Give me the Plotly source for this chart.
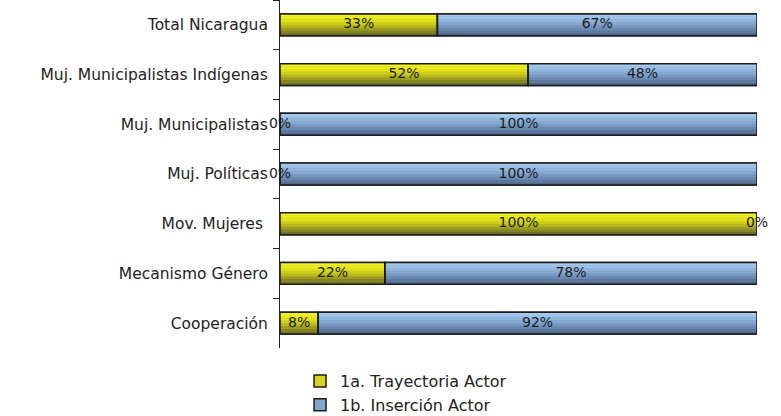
import plotly.graph_objects as go

# Kategorien von oben nach unten, Anteile in Prozent
categories = [
    "Total Nicaragua",
    "Muj. Municipalistas Indígenas",
    "Muj. Municipalistas",
    "Muj. Políticas",
    "Mov. Mujeres ",
    "Mecanismo Género",
    "Cooperación",
]
trayectoria = [33, 52, 0, 0, 100, 22, 8]
insercion = [67, 48, 100, 100, 0, 78, 92]
series_names = ["1a. Trayectoria Actor", "1b. Inserción Actor"]

# ---------------------------------------------------------------------------
# Verlauf der Balken über schmale Streifen nachgebildet (oben hell, unten dunkel)
# ---------------------------------------------------------------------------
YELLOW = ["#f0f024", "#eaea1e", "#e0e01a", "#cfcf1a", "#b8b81c", "#9c9c20", "#828226", "#70702a"]
BLUE = ["#a6caee", "#9cc0e6", "#90b4dc", "#84a8d0", "#7898c2", "#6a88b0", "#5c789c", "#50688a"]
LEGEND_COLORS = ["#d4d41c", "#80a6cc"]
EDGE = "#1c1c1c"
BAR_W = 0.44
FONT = "DejaVu Sans"

bases = [[0] * len(categories), trayectoria]
values = [trayectoria, insercion]
shades = [YELLOW, BLUE]

traces = []
for name, vals, base, strip_colors, leg_color in zip(series_names, values, bases, shades, LEGEND_COLORS):
    traces.append(go.Bar(
        y=categories, x=vals, base=base, orientation="h", name=name,
        width=BAR_W, offset=-BAR_W / 2,
        marker=dict(color=leg_color, line=dict(color=EDGE, width=1.5)),
        hoverinfo="skip",
    ))
    n = len(strip_colors)
    for k, c in enumerate(strip_colors):
        traces.append(go.Bar(
            y=categories, x=vals, base=base, orientation="h", showlegend=False,
            width=BAR_W / n, offset=-BAR_W / 2 + k * BAR_W / n,
            marker=dict(color=c, line=dict(width=0)),
            hoverinfo="skip",
        ))

for vals, base in zip(values, bases):
    traces.append(go.Bar(
        y=categories, x=vals, base=base, orientation="h", showlegend=False,
        width=BAR_W, offset=-BAR_W / 2,
        marker=dict(color="rgba(0,0,0,0)", line=dict(color=EDGE, width=1.5)),
        hoverinfo="skip",
    ))

# Beschriftungen in der Mitte jedes Segments (auch 0 %)
for vals, base in zip(values, bases):
    traces.append(go.Scatter(
        y=categories, x=[b + v / 2 for b, v in zip(base, vals)],
        mode="text", text=[f"{v}%" for v in vals],
        textfont=dict(family=FONT, size=14, color="#1a1a1a"),
        showlegend=False, hoverinfo="skip", cliponaxis=False,
    ))

fig = go.Figure(data=traces)
fig.update_layout(
    width=781, height=416,
    margin=dict(l=280, r=24, t=0, b=68, autoexpand=False),
    barmode="overlay",
    plot_bgcolor="white", paper_bgcolor="white",
    font=dict(family=FONT, size=15, color="#222222"),
    showlegend=True,
    legend=dict(
        orientation="v", x=0.042, xanchor="left", y=-0.046, yanchor="top",
        font=dict(family=FONT, size=16, color="#222222"),
        bgcolor="rgba(0,0,0,0)", itemwidth=30, tracegroupgap=0,
    ),
)
fig.update_xaxes(range=[0, 100], visible=False, showgrid=False, zeroline=False)
fig.update_yaxes(
    categoryorder="array", categoryarray=categories, autorange="reversed",
    automargin=False,
    showline=True, linecolor="#222222", linewidth=1,
    ticks="outside", tickson="boundaries", ticklen=6, tickcolor="#222222",
    ticklabelstandoff=8, showgrid=False, zeroline=False,
    tickfont=dict(family=FONT, size=15.5, color="#222222"),
)
fig.write_html(
    "out.html",
    config={"displayModeBar": False},
    post_script="document.body.style.margin='0px';",
)
